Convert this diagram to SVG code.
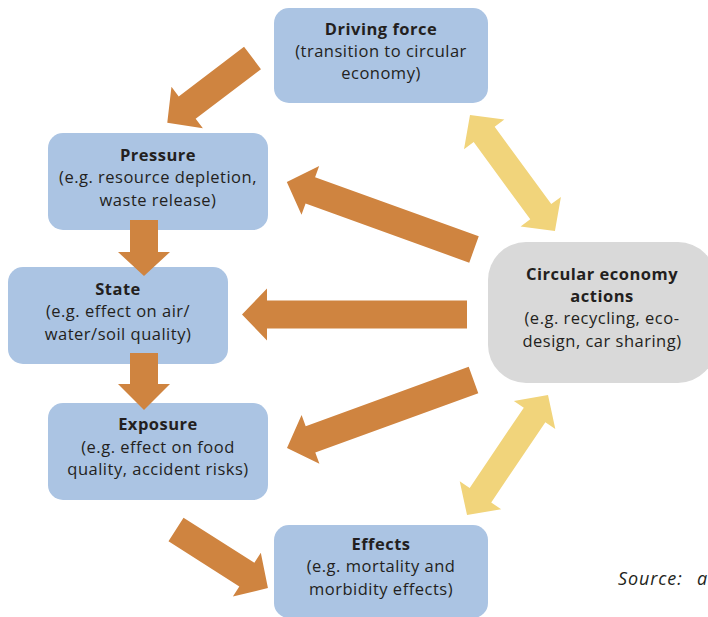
<svg xmlns="http://www.w3.org/2000/svg" width="708" height="617" viewBox="0 0 708 617">
<style>
.box{fill:#abc4e3}
.ce{fill:#d9d9d9}
.t{font-family:"Open Sans","Liberation Sans",sans-serif;font-size:16.5px;letter-spacing:0.5px;fill:#231f20;text-anchor:middle}
.b{font-weight:bold}
.o{fill:#cf8440}
.y{fill:#f1d47b}
.src{font-family:"Open Sans","Liberation Sans",sans-serif;font-size:18px;letter-spacing:0.9px;font-style:italic;fill:#231f20}
</style>
<rect width="708" height="617" fill="#ffffff"/>
<g id="driving">
<rect class="box" x="274" y="8" width="214" height="95" rx="15"/>
<text class="t b" x="381" y="35">Driving force</text>
<text class="t" x="381" y="57">(transition to circular</text>
<text class="t" x="381" y="79">economy)</text>
</g>
<g id="pressure">
<rect class="box" x="48" y="133" width="220" height="97" rx="15"/>
<text class="t b" x="158" y="161">Pressure</text>
<text class="t" x="158" y="183">(e.g. resource depletion,</text>
<text class="t" x="158" y="206">waste release)</text>
</g>
<g id="state">
<rect class="box" x="8" y="267" width="220" height="97" rx="15"/>
<text class="t b" x="118" y="295">State</text>
<text class="t" x="118" y="317">(e.g. effect on air/</text>
<text class="t" x="118" y="340">water/soil quality)</text>
</g>
<g id="exposure">
<rect class="box" x="48" y="403" width="220" height="97" rx="15"/>
<text class="t b" x="158" y="430">Exposure</text>
<text class="t" x="158" y="453">(e.g. effect on food</text>
<text class="t" x="158" y="475">quality, accident risks)</text>
</g>
<g id="effects">
<rect class="box" x="274" y="525" width="214" height="93" rx="15"/>
<text class="t b" x="381" y="550">Effects</text>
<text class="t" x="381" y="572">(e.g. mortality and</text>
<text class="t" x="381" y="595">morbidity effects)</text>
</g>
<g id="circular">
<rect class="ce" x="488" y="242" width="228" height="141" rx="38"/>
<text class="t b" x="602" y="280">Circular economy</text>
<text class="t b" x="602" y="302">actions</text>
<text class="t" x="602" y="324">(e.g. recycling, eco-</text>
<text class="t" x="602" y="347">design, car sharing)</text>
</g>
<g id="connectors">
<path class="o" transform="translate(252.5,58) rotate(142.8)" d="M0,-14 H82 V-26 L107,0 L82,26 V14 H0 Z"/>
<path class="o" transform="translate(144,220) rotate(90)" d="M0,-14 H32 V-26 L56,0 L32,26 V14 H0 Z"/>
<path class="o" transform="translate(144,353) rotate(90)" d="M0,-14 H31 V-26 L57,0 L31,26 V14 H0 Z"/>
<path class="o" transform="translate(176,529.5) rotate(32.5)" d="M0,-14 H84 V-26 L109,0 L84,26 V14 H0 Z"/>
<path class="o" transform="translate(474,249.5) rotate(199.85)" d="M0,-14 H174 V-26 L199,0 L174,26 V14 H0 Z"/>
<path class="o" transform="translate(467,314.5) rotate(180)" d="M0,-14 H200 V-26 L225,0 L200,26 V14 H0 Z"/>
<path class="o" transform="translate(473.5,380) rotate(159.97)" d="M0,-14 H173.5 V-26 L198.5,0 L173.5,26 V14 H0 Z"/>
<path class="y" transform="translate(470,115) rotate(53.8)" d="M0,0 L24,-25 V-13 H119.8 V-25 L143.8,0 L119.8,25 V13 H24 V25 Z"/>
<path class="y" transform="translate(548,395) rotate(124)" d="M0,0 L24,-25 V-13 H120.8 V-25 L144.8,0 L120.8,25 V13 H24 V25 Z"/>
</g>
<text class="src" x="618" y="585">Source: <tspan x="697">a</tspan></text>
</svg>
